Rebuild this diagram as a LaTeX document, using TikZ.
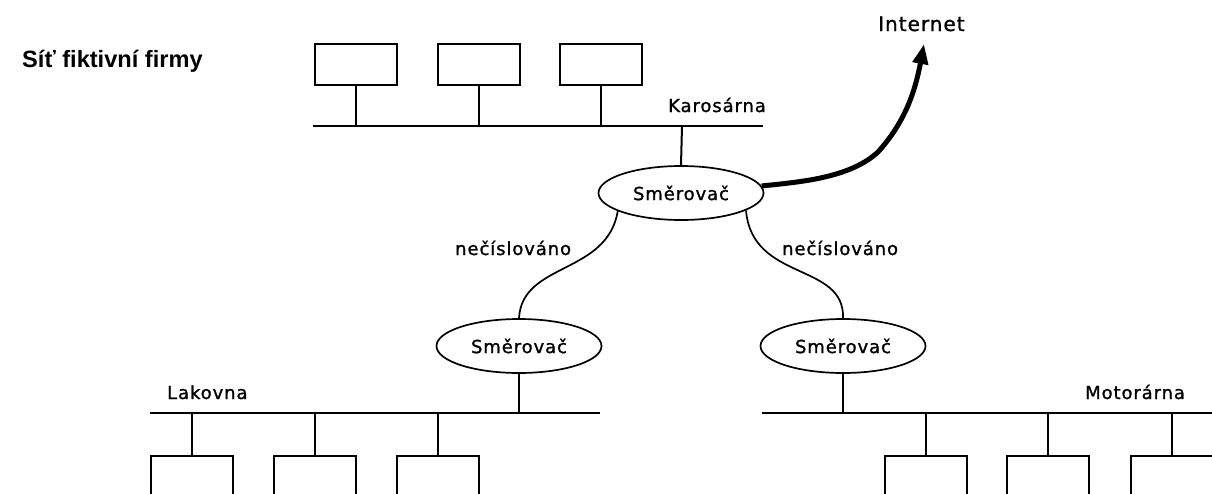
\documentclass[tikz,border=0pt]{standalone}
\usepackage{fontspec}
\setmainfont{DejaVu Sans}
\newfontfamily\lblfont[LetterSpace=5,FakeBold=1.2]{DejaVu Sans}
\newfontfamily\ttlfont{Liberation Sans}
\usetikzlibrary{shapes.geometric,arrows.meta}
\tikzset{
  pc/.style={draw,line width=2pt,minimum width=82pt,minimum height=41pt,inner sep=0pt,anchor=north,fill=white},
  pcb/.style={pc,minimum height=70pt},
  bus/.style={line width=2pt},
  link/.style={line width=2pt},
  router/.style={draw,ellipse,line width=1.7pt,minimum width=165pt,minimum height=54pt,inner sep=0pt,font=\lblfont\fontsize{18}{20}\selectfont},
  lbl/.style={inner sep=0pt,anchor=base west,font=\lblfont\fontsize{18}{20}\selectfont},
  wan/.style={line width=1.7pt},
}
\begin{document}
\begin{tikzpicture}[x=1pt,y=-1pt]
\clip (0,0) rectangle (1212,493);
\fill[white] (0,0) rectangle (1212,493);
% title
\node[inner sep=0pt,anchor=base west,font=\ttlfont\bfseries\fontsize{23.6}{26}\selectfont] (title) at (22,67) {Síť fiktivní firmy};
% Karosarna
\coordinate (kL) at (313,126);
\coordinate (kR) at (763,126);
\draw[bus] (kL) -- (kR);
\node[pc] (k1) at (356,43) {};
\node[pc] (k2) at (479,43) {};
\node[pc] (k3) at (601,43) {};
\foreach \b in {k1,k2,k3} \draw[link] (\b.south) -- (\b.south |- kL);
\node[lbl] (klbl) at (668,112) {Karosárna};
% routers
\node[router] (r0) at (681,193) {Směrovač};
\node[router] (r1) at (519,346) {Směrovač};
\node[router] (r2) at (843,346) {Směrovač};
\coordinate (kr) at (682,126);
\draw[link] (kr) -- (r0.north);
% internet
\node[lbl,font=\lblfont\fontsize{20}{22}\selectfont] (inet) at (878,31) {Internet};
\coordinate (itip) at (924,44);
\draw[line width=5pt,-{Triangle[length=20pt,width=15pt]}] (r0.5) .. controls (800,182) and (850,178) .. (878,152) .. controls (905,122) and (915,92) .. (itip);
% unnumbered links
\draw[wan] (r0.196) .. controls (607,275) and (522,262) .. (r1.north);
\draw[wan] (r0.-15) .. controls (752,282) and (845,262) .. (r2.north);
\node[lbl] (n1) at (455,255) {nečíslováno};
\node[lbl] (n2) at (782,255) {nečíslováno};
% Lakovna
\coordinate (lL) at (150,413);
\coordinate (lR) at (600,413);
\draw[bus] (lL) -- (lR);
\draw[link] (r1.south) -- (r1.south |- lL);
\node[pcb] (l1) at (192,455) {};
\node[pcb] (l2) at (315,455) {};
\node[pcb] (l3) at (438,455) {};
\foreach \b in {l1,l2,l3} \draw[link] (\b.north) -- (\b.north |- lL);
\node[lbl] (llbl) at (167,399) {Lakovna};
% Motorarna
\coordinate (mL) at (762,413);
\coordinate (mR) at (1214,413);
\draw[bus] (mL) -- (mR);
\draw[link] (r2.south) -- (r2.south |- mL);
\node[pcb] (m1) at (926,455) {};
\node[pcb] (m2) at (1048,455) {};
\node[pcb] (m3) at (1172,455) {};
\foreach \b in {m1,m2,m3} \draw[link] (\b.north) -- (\b.north |- mL);
\node[lbl] (mlbl) at (1085,399) {Motorárna};
\end{tikzpicture}
\end{document}
